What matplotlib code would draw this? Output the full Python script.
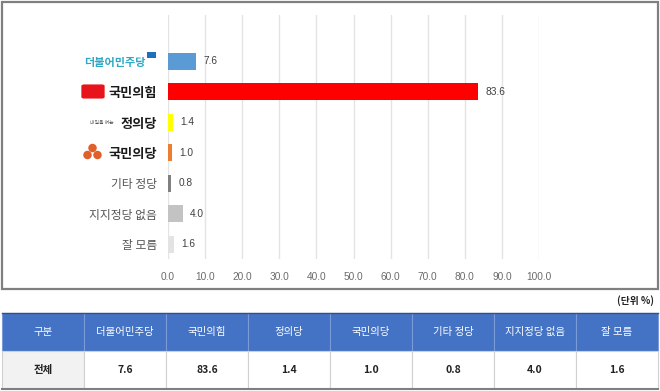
import matplotlib.pyplot as plt
from matplotlib.patches import Rectangle, FancyBboxPatch, Ellipse

plt.rcParams['font.family'] = ['Noto Sans CJK KR', 'DejaVu Sans']

parties = ['더불어민주당', '국민의힘', '정의당', '국민의당', '기타 정당', '지지정당 없음', '잘 모름']
values = [7.6, 83.6, 1.4, 1.0, 0.8, 4.0, 1.6]
colors = ['#5B9BD5', '#FF0000', '#FFFF00', '#ED7D31', '#808080', '#C3C3C3', '#E3E3E3']
xticks = [0, 10, 20, 30, 40, 50, 60, 70, 80, 90, 100]

W, H = 660, 391
fig = plt.figure(figsize=(6.6, 3.91), dpi=100)


def px(x, y, w, h):
    # pixel box (top-left origin) -> figure fraction
    return [x / W, 1 - (y + h) / H, w / W, h / H]


# chart frame
fig.patches.append(Rectangle((1.5 / W, 1 - 289 / H), 656 / W, 287.5 / H,
                             transform=fig.transFigure, fill=False,
                             edgecolor='#7F7F7F', linewidth=1.6))

ax = fig.add_axes(px(168, 15, 371, 244))
ax.barh(range(len(parties)), values, height=0.56, color=colors)
ax.set_xlim(0, 100)
ax.set_ylim(6.48, -1.51)
ax.set_xticks(xticks)
ax.set_xticklabels([f'{v:.1f}' for v in xticks], fontsize=7.3, color='#6B6B6B',
                   family=['Liberation Sans', 'DejaVu Sans'])
ax.tick_params(axis='x', length=0, pad=9)
ax.set_yticks(range(len(parties)))
ax.set_yticklabels(parties, fontsize=8.5, color='#555555')
ax.tick_params(axis='y', length=0, pad=8)
ax.grid(axis='x', color='#E4E4E4', linewidth=1)
ax.set_axisbelow(True)
for s in ax.spines.values():
    s.set_visible(False)

for bar, v in zip(ax.patches, values):
    ax.text(v + 2.0, bar.get_y() + bar.get_height() / 2, f'{v:.1f}',
            va='center', ha='left', fontsize=7.3, color='#404040',
            family=['Liberation Sans', 'DejaVu Sans'])

# party "logos" as styled tick labels
labels = ax.get_yticklabels()
labels[0].set_color('#2EA8C4')
labels[0].set_fontsize(8)
labels[0].set_fontweight('bold')
labels[0].set_x(-0.03)
for i in (1, 2, 3):
    labels[i].set_color('#1A1A1A')
    labels[i].set_fontweight('bold')
    labels[i].set_fontsize(9.5)

# small logo marks
fig.patches.append(FancyBboxPatch((147 / W, 1 - 58 / H), 9 / W, 6 / H,
                                  boxstyle='round,pad=0', transform=fig.transFigure,
                                  facecolor='#1F6FBF', edgecolor='none'))
fig.patches.append(FancyBboxPatch((84 / W, 1 - 97 / H), 18 / W, 11 / H,
                                  boxstyle='round,pad=0.004', transform=fig.transFigure,
                                  facecolor='#E8141B', edgecolor='none'))
fig.text(90 / W, 1 - 122 / H, '내일을 여는', fontsize=3.5, color='#555555',
         va='center', ha='left')
for cx, cy in [(92.5, 148), (87.5, 155), (97.5, 155)]:
    fig.patches.append(Ellipse((cx / W, 1 - cy / H), 8.5 / W, 8.5 / H,
                               transform=fig.transFigure,
                               facecolor='#E0602B', edgecolor='none'))

# table
fig.text(654 / W, 1 - 301 / H, '(단위 %)', fontsize=7, fontweight='bold',
         ha='right', va='center', color='#222222')

tax = fig.add_axes(px(2, 313, 656, 76))
tax.axis('off')
header = ['구분'] + parties
row = ['전체'] + [f'{v:.1f}' for v in values]
tbl = tax.table(cellText=[row], colLabels=header, bbox=[0, 0, 1, 1], cellLoc='center')
tbl.auto_set_font_size(False)
for (r, c), cell in tbl.get_celld().items():
    cell.set_linewidth(0.8)
    if r == 0:
        cell.set_facecolor('#4472C4')
        cell.set_edgecolor('#7A9AD8')
        cell.get_text().set_color('white')
        cell.get_text().set_fontsize(7.5)
    else:
        cell.set_facecolor('#F2F2F2' if c == 0 else 'white')
        cell.set_edgecolor('#D0D0D0')
        cell.get_text().set_color('#222222')
        cell.get_text().set_fontweight('bold')
        cell.get_text().set_fontsize(7.5)
tax.plot([0, 1], [0, 0], transform=tax.transAxes, color='#7F7F7F', linewidth=1.5,
         clip_on=False)
tax.plot([0, 1], [1, 1], transform=tax.transAxes, color='#2F4F8F', linewidth=1.0,
         clip_on=False)

fig.savefig('out.png', dpi=100)
